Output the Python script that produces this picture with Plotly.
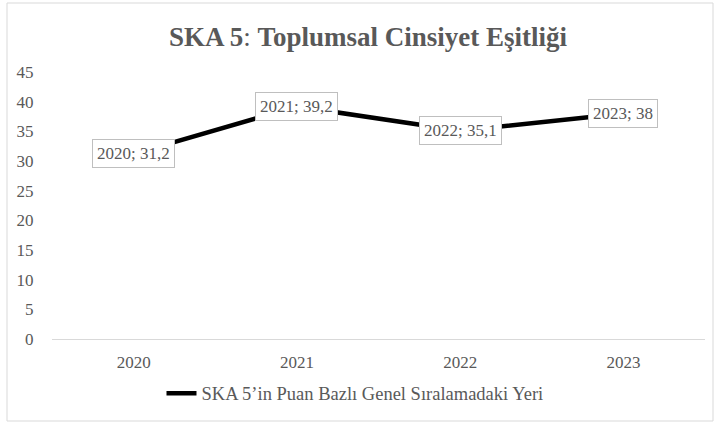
import plotly.graph_objects as go

# Veriler
years = ["2020", "2021", "2022", "2023"]
values = [31.2, 39.2, 35.1, 38]
labels = ["2020; 31,2", "2021; 39,2", "2022; 35,1", "2023; 38"]
y_ticks = [0, 5, 10, 15, 20, 25, 30, 35, 40, 45]

FONT = "Liberation Serif"
GRAY = "#595959"

fig = go.Figure()

fig.add_trace(go.Scatter(
    x=years,
    y=values,
    mode="lines",
    name="SKA 5’in Puan Bazlı Genel Sıralamadaki Yeri",
    line=dict(color="black", width=4.5),
))

# Veri etiketleri (kutulu) - kategori ekseninde sıra numarası ile
for i, (v, lab) in enumerate(zip(values, labels)):
    fig.add_annotation(
        x=i, y=v, xref="x", yref="y", text=lab, showarrow=False,
        font=dict(family=FONT, size=17, color=GRAY),
        bgcolor="white", bordercolor="#bfbfbf", borderwidth=1, borderpad=4,
    )

# Dış çerçeve
fig.add_shape(
    type="rect", xref="paper", yref="paper",
    x0=(7 - 52) / 653, x1=(713 - 52) / 653,
    y0=(339 - 421) / 267, y1=(339 - 3) / 267,
    line=dict(color="#d9d9d9", width=1), layer="below",
)

fig.update_layout(
    title=dict(
        text="<b>SKA 5</b>: <b>Toplumsal Cinsiyet Eşitliği</b>",
        x=368 / 715, xanchor="center", y=1 - 37 / 424, yanchor="middle",
        font=dict(family=FONT, size=27, color=GRAY),
    ),
    font=dict(family=FONT, color=GRAY),
    width=715,
    height=424,
    margin=dict(l=52, r=10, t=72, b=85),
    plot_bgcolor="white",
    paper_bgcolor="white",
    showlegend=True,
    legend=dict(
        orientation="h", x=0.464, xanchor="center", y=-0.205, yanchor="middle",
        font=dict(family=FONT, size=18.5, color=GRAY),
    ),
)

fig.update_xaxes(
    type="category", range=[-0.5, 3.5],
    showgrid=False, showline=True, linecolor="#d9d9d9", linewidth=1,
    ticks="outside", ticklen=8, tickcolor="white",
    tickfont=dict(family=FONT, size=17, color=GRAY),
    zeroline=False,
)
fig.update_yaxes(
    range=[0, 45], tickvals=y_ticks,
    showgrid=False, showline=False, zeroline=False,
    ticks="outside", ticklen=14, tickcolor="white",
    tickfont=dict(family=FONT, size=17, color=GRAY),
)

# Sayfa kenar boşluğunu sıfırla, araç çubuğunu gizle
fig.write_html(
    "out.html",
    config={"displayModeBar": False},
    post_script="document.body.style.margin='0';",
)
